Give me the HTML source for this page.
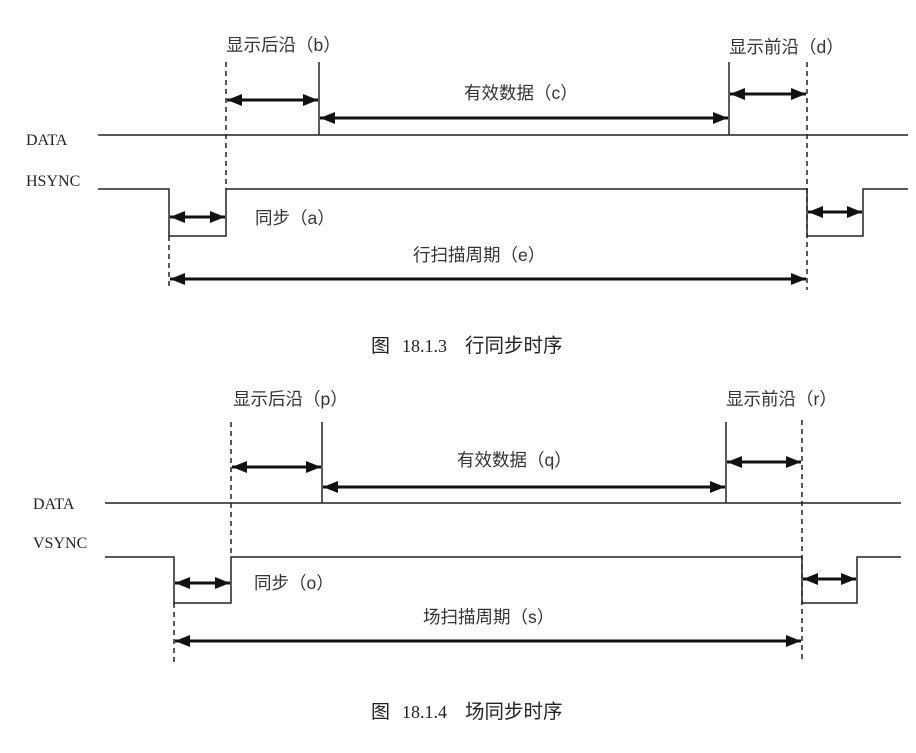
<!DOCTYPE html>
<html><head><meta charset="utf-8"><style>
body{margin:0;background:#fff;}
svg text{font-family:"Liberation Sans","Noto Sans CJK SC",sans-serif;fill:#333;}
.lbl{font-family:"Liberation Serif","Noto Serif CJK SC",serif;fill:#222;}
.cap{font-family:"Liberation Serif","Noto Sans CJK SC",serif;fill:#222;}
</style></head><body>
<svg width="916" height="748" viewBox="0 0 916 748" xmlns="http://www.w3.org/2000/svg">
<defs>
<marker id="ah2" viewBox="0 0 15 12" markerWidth="15" markerHeight="12" refX="15" refY="6" orient="auto-start-reverse" markerUnits="userSpaceOnUse">
<path d="M0,0 L15,6 L0,12 z" fill="#111"/></marker>
</defs>
<g stroke="#222" stroke-width="1.5" fill="none">
<line x1="98" y1="135" x2="908" y2="135"/>
<polyline points="98,189 169,189 169,236 226,236 226,189 807,189 807,236 863,236 863,189 908,189"/>
<line x1="319" y1="62" x2="319" y2="135"/>
<line x1="729" y1="62" x2="729" y2="135"/>
<g stroke-dasharray="5,4">
<line x1="226" y1="62" x2="226" y2="189"/>
<line x1="169" y1="236" x2="169" y2="289"/>
<line x1="807" y1="62" x2="807" y2="290"/>
</g>
</g>
<g stroke="#111" stroke-width="3" marker-start="url(#ah2)" marker-end="url(#ah2)">
<line x1="227" y1="100" x2="318" y2="100"/>
<line x1="320" y1="118" x2="728" y2="118"/>
<line x1="730" y1="94" x2="806" y2="94"/>
<line x1="170" y1="217" x2="225" y2="217"/>
<line x1="808" y1="212" x2="862" y2="212"/>
<line x1="170" y1="279" x2="806" y2="279"/>
</g>
<text x="26" y="145" class="lbl" font-size="16">DATA</text>
<text x="26" y="186" class="lbl" font-size="16">HSYNC</text>
<text x="226" y="51" font-size="17.5">显示后沿（b）</text>
<text x="464" y="99" font-size="17.5">有效数据（c）</text>
<text x="729" y="53" font-size="17.5">显示前沿（d）</text>
<text x="255" y="224" font-size="17.5">同步（a）</text>
<text x="413" y="261" font-size="17.5">行扫描周期（e）</text>
<text x="371" y="352" class="cap" font-size="19">图</text>
<text x="402" y="352" class="cap" font-size="18">18.1.3</text>
<text x="465" y="352" class="cap" font-size="19.5">行同步时序</text>

<g stroke="#222" stroke-width="1.5" fill="none">
<line x1="105" y1="503" x2="901" y2="503"/>
<polyline points="105,557 174,557 174,603 231,603 231,557 802,557 802,603 857,603 857,557 901,557"/>
<line x1="322" y1="422" x2="322" y2="503"/>
<line x1="726" y1="422" x2="726" y2="503"/>
<g stroke-dasharray="5,4">
<line x1="231" y1="422" x2="231" y2="557"/>
<line x1="174" y1="603" x2="174" y2="664"/>
<line x1="802" y1="420" x2="802" y2="662"/>
</g>
</g>
<g stroke="#111" stroke-width="3" marker-start="url(#ah2)" marker-end="url(#ah2)">
<line x1="232" y1="467" x2="321" y2="467"/>
<line x1="323" y1="487" x2="725" y2="487"/>
<line x1="727" y1="462" x2="801" y2="462"/>
<line x1="175" y1="583" x2="230" y2="583"/>
<line x1="803" y1="579" x2="856" y2="579"/>
<line x1="175" y1="641" x2="801" y2="641"/>
</g>
<text x="33" y="509" class="lbl" font-size="16">DATA</text>
<text x="33" y="548" class="lbl" font-size="16">VSYNC</text>
<text x="233" y="405" font-size="17.5">显示后沿（p）</text>
<text x="457" y="466" font-size="17.5">有效数据（q）</text>
<text x="726" y="405" font-size="17.5">显示前沿（r）</text>
<text x="254" y="589" font-size="17.5">同步（o）</text>
<text x="423" y="623" font-size="17.5">场扫描周期（s）</text>
<text x="371" y="718" class="cap" font-size="19">图</text>
<text x="402" y="718" class="cap" font-size="18">18.1.4</text>
<text x="465" y="718" class="cap" font-size="19.5">场同步时序</text>
</svg>
</body></html>
